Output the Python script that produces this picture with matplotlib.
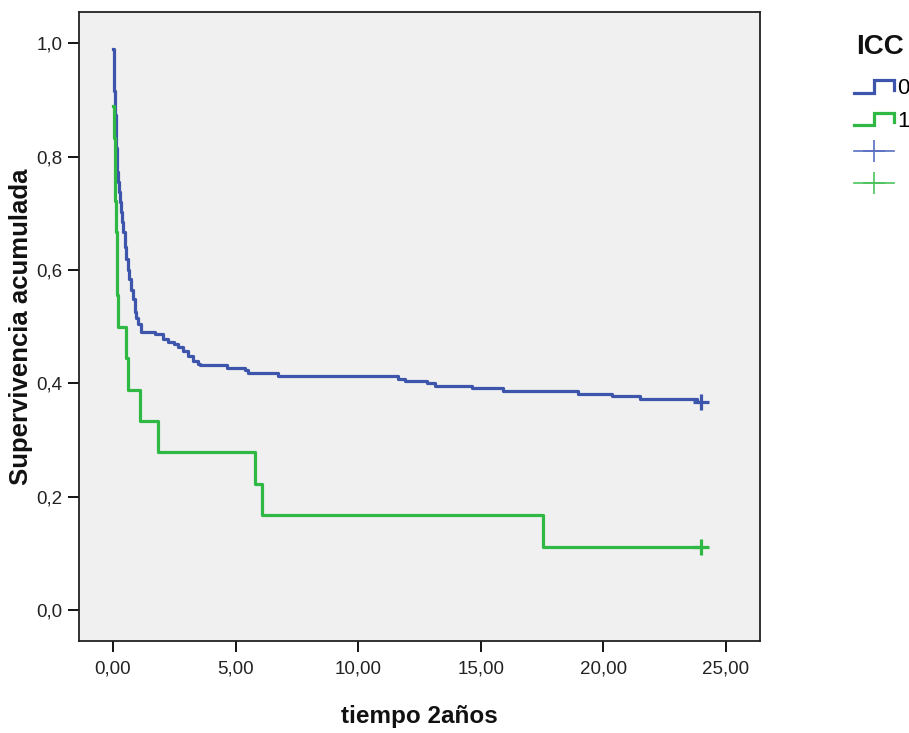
import matplotlib
matplotlib.use("Agg")
import matplotlib.pyplot as plt
from matplotlib.lines import Line2D
from matplotlib.legend_handler import HandlerBase
from matplotlib.ticker import FuncFormatter

# Kaplan-Meier curves (time, cumulative survival)
t_icc0 = [0.0, 0.02, 0.06, 0.10, 0.14, 0.18, 0.22, 0.26, 0.30, 0.34, 0.38, 0.42,
          0.48, 0.54, 0.60, 0.66, 0.72, 0.80, 0.88, 0.95, 1.02, 1.15, 1.70,
          2.02, 2.24, 2.50, 2.65, 2.86, 3.06, 3.27, 3.47, 3.55, 4.65, 5.39,
          5.51, 6.73, 11.63, 11.92, 12.82, 13.14, 14.65, 15.92, 18.98, 20.37,
          21.51, 23.82, 24.0]
s_icc0 = [0.990, 0.915, 0.873, 0.850, 0.815, 0.773, 0.755, 0.738, 0.720, 0.703,
          0.685, 0.667, 0.640, 0.619, 0.600, 0.584, 0.565, 0.549, 0.526, 0.515,
          0.505, 0.490, 0.487, 0.478, 0.473, 0.469, 0.464, 0.457, 0.448, 0.439,
          0.434, 0.432, 0.427, 0.423, 0.419, 0.413, 0.408, 0.404, 0.400, 0.395,
          0.391, 0.386, 0.381, 0.377, 0.372, 0.367, 0.367]

t_icc1 = [0.0, 0.03, 0.06, 0.08, 0.12, 0.15, 0.17, 0.20, 0.53, 0.63,
          1.10, 1.84, 5.80, 6.08, 17.55, 24.0]
s_icc1 = [0.889, 0.833, 0.778, 0.722, 0.667, 0.611, 0.556, 0.500,
          0.444, 0.389, 0.333, 0.278, 0.222, 0.167, 0.111, 0.111]

cens_t = [24.0, 24.0]
cens_s = [0.367, 0.111]

groups = ["0", "1"]
colors = ["#3d56ab", "#2fb843"]

x_ticks = [0, 5, 10, 15, 20, 25]
y_ticks = [0.0, 0.2, 0.4, 0.6, 0.8, 1.0]

plt.rcParams["font.family"] = ["Liberation Sans", "DejaVu Sans"]


class StepGlyph(HandlerBase):
    def create_artists(self, legend, orig_handle, xdescent, ydescent,
                       width, height, fontsize, trans):
        x0, y0 = -xdescent, -ydescent
        xs = [x0, x0 + width * 0.5, x0 + width * 0.5, x0 + width, x0 + width]
        ys = [y0 + height * 0.1, y0 + height * 0.1, y0 + height * 0.9,
              y0 + height * 0.9, y0 + height * 0.3]
        ln = Line2D(xs, ys, color=orig_handle.get_color(),
                    lw=orig_handle.get_linewidth(), solid_joinstyle="miter")
        ln.set_transform(trans)
        return [ln]


fig = plt.figure(figsize=(9.09, 7.33), dpi=100)
ax = fig.add_axes([0.0869, 0.1255, 0.749, 0.858])
ax.set_facecolor("#f0f0f0")

l0, = ax.step(t_icc0, s_icc0, where="post", color=colors[0], lw=2.3)
l1, = ax.step(t_icc1, s_icc1, where="post", color=colors[1], lw=2.3)
for i in range(2):
    ax.plot(cens_t[i], cens_s[i], marker="+", color=colors[i],
            markersize=11, markeredgewidth=2.3, linestyle="none")

ax.set_xlim(-1.39, 26.39)
ax.set_ylim(-0.0547, 1.055)
ax.set_xticks(x_ticks)
ax.set_yticks(y_ticks)
ax.xaxis.set_major_formatter(FuncFormatter(lambda v, p: f"{v:.2f}".replace(".", ",")))
ax.yaxis.set_major_formatter(FuncFormatter(lambda v, p: f"{v:.1f}".replace(".", ",")))
ax.tick_params(direction="out", length=8, width=1.3, labelsize=13.5,
               labelcolor="#222222", pad=4)
ax.tick_params(axis="x", pad=6)
for sp in ax.spines.values():
    sp.set_linewidth(1.3)
    sp.set_color("#222222")

ax.set_xlabel("tiempo 2años", fontsize=17.5, fontweight="bold", labelpad=20,
              color="#111111")
ax.set_ylabel("Supervivencia acumulada", fontsize=18.5, fontweight="bold",
              color="#111111")
ax.yaxis.set_label_coords(-0.068, 0.5)

handles = [l0, l1,
           Line2D([], [], color="#5a70c2", lw=1.2, marker="+", markersize=16,
                  markeredgewidth=1.2),
           Line2D([], [], color="#4cc25c", lw=1.2, marker="+", markersize=16,
                  markeredgewidth=1.2)]
leg = fig.legend(handles, groups + ["", ""], loc="upper left",
                 bbox_to_anchor=(0.939, 0.893), frameon=False,
                 fontsize=16, handlelength=1.8, handletextpad=0.15,
                 labelspacing=0.5, borderaxespad=0, borderpad=0,
                 handler_map={l0: StepGlyph(), l1: StepGlyph()})
fig.text(0.968, 0.936, "ICC", fontsize=20, fontweight="bold",
         ha="center", va="center", color="#111111")

fig.savefig("out.png", dpi=100)
